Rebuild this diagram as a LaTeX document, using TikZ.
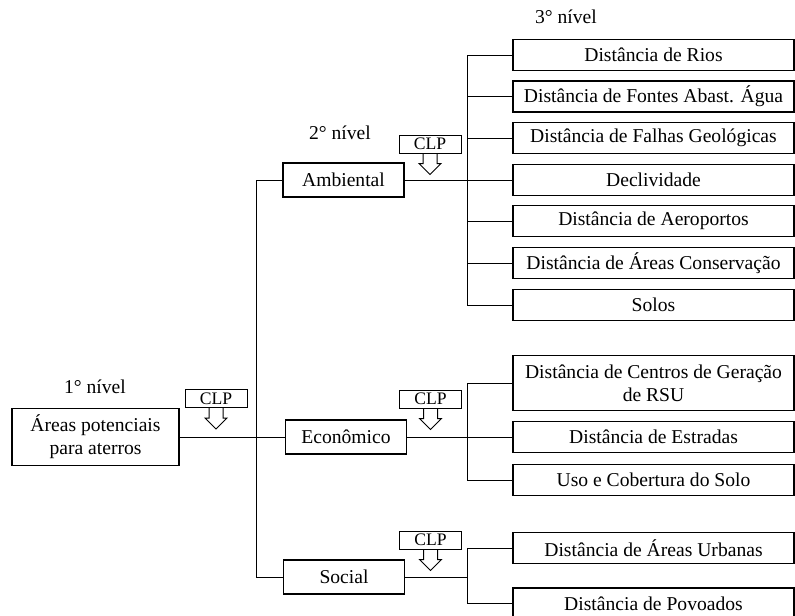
\documentclass[tikz,border=0pt]{standalone}
\usepackage{fontspec}
\setmainfont{Liberation Serif}
\newcommand{\setaclp}[1]{%
  \begin{scope}[shift={(#1.south)}]
    \draw[line width=0.5pt] (-7,0) -- (-7,10) -- (-11,10) -- (0,21) -- (11,10) -- (7,10) -- (7,0);
  \end{scope}}
\begin{document}
\begin{tikzpicture}[x=0.5pt,y=-0.5pt,
    every node/.style={font=\fontsize{9.8}{11.5}\selectfont},
    box/.style={draw, line width=0.6pt, inner sep=0pt, align=center},
    nivel1/.style={box, minimum width=83.5pt, minimum height=28.5pt},
    nivel2/.style={box, minimum width=60.5pt, minimum height=17pt},
    nivel3/.style={box, minimum width=140.5pt, minimum height=15.5pt},
    clp/.style={draw, line width=0.5pt, inner sep=0pt, minimum width=31pt, minimum height=9pt,
        font=\fontsize{8.8}{10}\selectfont}]
  \useasboundingbox (0,0) rectangle (795,615);

  \node (t1) at (95,387) {1° nível};
  \node (t2) at (340,133) {2° nível};
  \node (t3) at (566,17) {3° nível};

  \node[nivel1] (areas) at (95.5,437) {Áreas potenciais\\para aterros};

  \node[nivel2] (amb) at (343.5,180) {Ambiental};
  \node[nivel2] (econ) at (346,437) {Econômico};
  \node[nivel2] (soc) at (344,577) {Social};

  \node[nivel3] (rios) at (653.5,55) {Distância de Rios};
  \node[nivel3] (fontes) at (653.5,96.5) {Distância de Fontes Abast. Água};
  \node[nivel3] (falhas) at (653.5,138) {Distância de Falhas Geológicas};
  \node[nivel3] (decliv) at (653.5,180) {Declividade};
  \node[nivel3] (aero) at (653.5,221) {Distância de Aeroportos};
  \node[nivel3] (conserv) at (653.5,263) {Distância de Áreas Conservação};
  \node[nivel3] (solos) at (653.5,305) {Solos};

  \node[nivel3, minimum height=27.5pt] (centros) at (653.5,383) {Distância de Centros de Geração\\de RSU};
  \node[nivel3] (estradas) at (653.5,437) {Distância de Estradas};
  \node[nivel3] (uso) at (653.5,480) {Uso e Cobertura do Solo};

  \node[nivel3] (urbanas) at (653.5,548) {Distância de Áreas Urbanas};
  \node[nivel3] (povoados) at (653.5,603.5) {Distância de Povoados};

  \node[clp] (clp1) at (216,398.5) {CLP};
  \node[clp] (clp2) at (430,144) {CLP};
  \node[clp] (clp3) at (430.5,399) {CLP};
  \node[clp] (clp4) at (430.5,540) {CLP};
  \foreach \c in {clp1,clp2,clp3,clp4} {\setaclp{\c}}

  \draw (areas.east) -- (econ.west);
  \draw (amb.west) -- ++(-26,0) coordinate (b0) -- (b0 |- soc.west) -- (soc.west);

  \draw (amb.east) -- (decliv.west);
  \draw (rios.west) -- ++(-45,0) coordinate (ba) -- (ba |- solos.west) -- (solos.west);
  \foreach \n in {fontes,falhas,aero,conserv} \draw (ba |- \n.west) -- (\n.west);

  \draw (econ.east) -- (estradas.west);
  \draw (centros.west) -- ++(-45,0) coordinate (be) -- (be |- uso.west) -- (uso.west);

  \draw (urbanas.west) -- ++(-45,0) coordinate (bs) -- (bs |- povoados.west) -- (povoados.west);
  \draw (soc.east) -- (soc.east -| bs);
\end{tikzpicture}
\end{document}
